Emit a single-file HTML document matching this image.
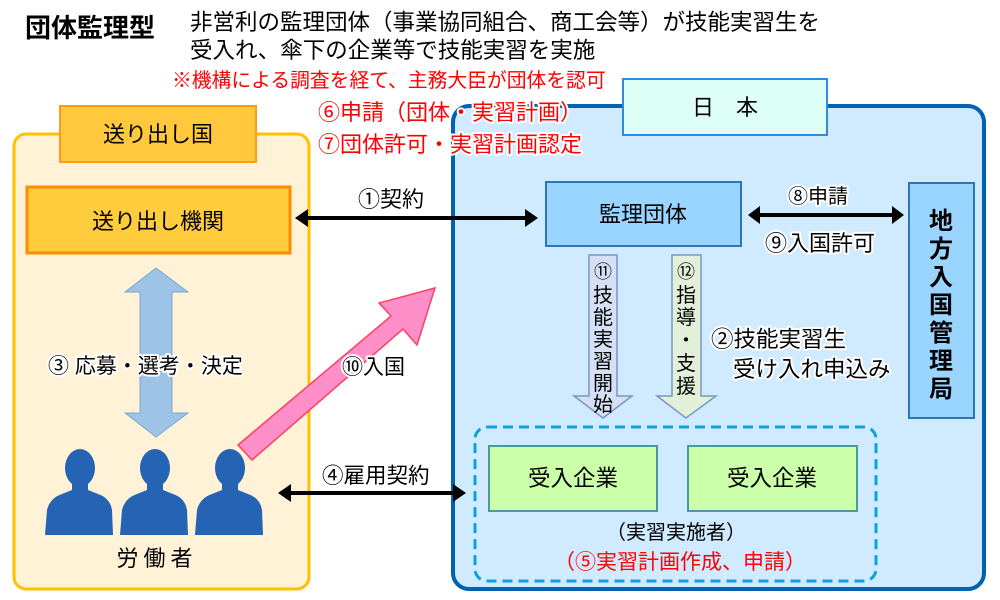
<!DOCTYPE html>
<html><head><meta charset="utf-8"><style>
html,body{margin:0;padding:0;background:#fff}
svg{display:block}
text{font-family:"Liberation Sans","Noto Sans CJK JP",sans-serif}
.h{paint-order:stroke;stroke:#fff;stroke-width:4px;stroke-linejoin:round}
</style></head><body>
<svg width="1000" height="600" viewBox="0 0 1000 600" xmlns="http://www.w3.org/2000/svg">
<!-- header -->
<text x="25" y="37" font-size="26" font-weight="bold" fill="#000">団体監理型</text>
<text x="190" y="30" font-size="22.5" fill="#000">非営利の監理団体（事業協同組合、商工会等）が技能実習生を</text>
<text x="190" y="58" font-size="22.5" fill="#000">受入れ、傘下の企業等で技能実習を実施</text>
<text x="172" y="87" font-size="19.8" fill="#ff0000">※機構による調査を経て、主務大臣が団体を認可</text>

<!-- left panel -->
<rect x="14" y="134" width="295" height="455" rx="12" fill="#fff2d6" stroke="#ffc000" stroke-width="3"/>
<rect x="60" y="106" width="196" height="56" fill="#ffc83d" stroke="#ff9a1a" stroke-width="2"/>
<text x="158" y="142" font-size="22" text-anchor="middle">送り出し国</text>
<rect x="27" y="187" width="263" height="66" fill="#ffcc3d" stroke="#ff8c00" stroke-width="3"/>
<text x="158" y="229" font-size="22" text-anchor="middle">送り出し機関</text>

<!-- right panel -->
<rect x="453" y="106" width="531" height="483" rx="16" fill="#d0ebff" stroke="#0063b1" stroke-width="4"/>
<rect x="623" y="79" width="204" height="56" fill="#ddfff8" stroke="#2e8be0" stroke-width="2"/>
<text x="725" y="115" font-size="22" text-anchor="middle">日　本</text>

<text class="h" x="318" y="120" font-size="22" fill="#ff0000">⑥申請（団体・実習計画）</text>
<text class="h" x="318" y="152" font-size="22" fill="#ff0000">⑦団体許可・実習計画認定</text>

<rect x="546" y="182" width="195" height="64" fill="#99d5ff" stroke="#2e75b6" stroke-width="2"/>
<text x="643" y="222" font-size="22" text-anchor="middle">監理団体</text>

<rect x="909" y="183" width="65" height="235" fill="#99d5ff" stroke="#2e75b6" stroke-width="2"/>
<g font-size="24" text-anchor="middle" font-weight="bold">
<text x="941" y="229">地</text><text x="941" y="257">方</text><text x="941" y="285">入</text>
<text x="941" y="313">国</text><text x="941" y="341">管</text><text x="941" y="369">理</text><text x="941" y="397">局</text>
</g>

<!-- ⑧⑨ arrow -->
<line x1="757" y1="215" x2="895" y2="215" stroke="#000" stroke-width="4"/>
<polygon points="748,215 760,206 760,224" fill="#000"/>
<polygon points="904,215 892,206 892,224" fill="#000"/>
<text class="h" x="788" y="203" font-size="20">⑧申請</text>
<text class="h" x="765" y="251" font-size="22">⑨入国許可</text>

<!-- ① arrow -->
<line x1="305" y1="218" x2="528" y2="218" stroke="#000" stroke-width="4"/>
<polygon points="295,218 308,209 308,227" fill="#000"/>
<polygon points="538,218 525,209 525,227" fill="#000"/>
<text class="h" x="358" y="207" font-size="22">①契約</text>

<!-- ⑪⑫ arrows -->
<polygon points="589,255 617,255 617,396 632,396 603,418 574,396 589,396" fill="#d6e0f4" stroke="#7a96c2" stroke-width="1.5"/>
<polygon points="672,255 701,255 701,396 716,396 686,418 657,396 672,396" fill="#e2f0d9" stroke="#7a96c2" stroke-width="1.5"/>
<g font-size="20" text-anchor="middle">
<text x="603" y="278" font-size="18">⑪</text>
<text x="603" y="302">技</text><text x="603" y="324">能</text><text x="603" y="346">実</text>
<text x="603" y="368">習</text><text x="603" y="390">開</text><text x="603" y="411">始</text>
<text x="686" y="278" font-size="18">⑫</text>
<text x="686" y="302">指</text><text x="686" y="324">導</text><text x="686" y="347">・</text>
<text x="686" y="370">支</text><text x="686" y="393">援</text>
</g>
<text class="h" x="711" y="347" font-size="22.5">②技能実習生</text>
<text class="h" x="733" y="377" font-size="22.5">受け入れ申込み</text>

<!-- dashed box -->
<rect x="475" y="427" width="401" height="154" rx="12" fill="none" stroke="#0ea0dc" stroke-width="3" stroke-dasharray="10,6"/>
<rect x="489" y="446" width="168" height="65" fill="#ccffaa" stroke="#4a9a9a" stroke-width="2"/>
<rect x="688" y="446" width="169" height="65" fill="#ccffaa" stroke="#4a9a9a" stroke-width="2"/>
<text x="573" y="486" font-size="22.5" text-anchor="middle">受入企業</text>
<text x="772" y="486" font-size="22.5" text-anchor="middle">受入企業</text>
<text x="676" y="539" font-size="20" text-anchor="middle">（実習実施者）</text>
<text x="680" y="569" font-size="21" text-anchor="middle" fill="#ff0000">（⑤実習計画作成、申請）</text>

<!-- ④ arrow -->
<line x1="288" y1="493" x2="455" y2="493" stroke="#000" stroke-width="4"/>
<polygon points="278,493 291,484 291,502" fill="#000"/>
<polygon points="466,493 453,484 453,502" fill="#000"/>
<text class="h" x="322" y="483" font-size="21.5">④雇用契約</text>

<!-- ③ blue arrow -->
<polygon points="156,268 188,292 172,292 172,413 188,413 156,437 125,413 140,413 140,292 125,292" fill="#9dc3e6" stroke="#7aa6d6" stroke-width="1"/>
<text class="h" x="48" y="373" font-size="21">③ 応募・選考・決定</text>

<!-- pink arrow -->
<polygon points="238,445 252,460 403,329 417,345 435,288 379,303 391,316" fill="#ff8fc8" stroke="#ff4060" stroke-width="1.5"/>
<text class="h" x="342" y="374" font-size="21">⑩入国</text>

<!-- workers -->
<g fill="#2563b4">
<g id="w">
<ellipse cx="80" cy="468" rx="15" ry="19"/>
<rect x="72" y="480" width="16" height="14"/>
<path d="M45 535 L47 510 Q50 498 62 494 L72 490 Q80 498 88 490 L98 494 Q110 498 112 510 L113 535 Z"/>
</g>
<use href="#w" x="75"/>
<use href="#w" x="150"/>
</g>
<text x="157" y="566" font-size="22" text-anchor="middle" letter-spacing="5">労働者</text>
</svg>
</body></html>
